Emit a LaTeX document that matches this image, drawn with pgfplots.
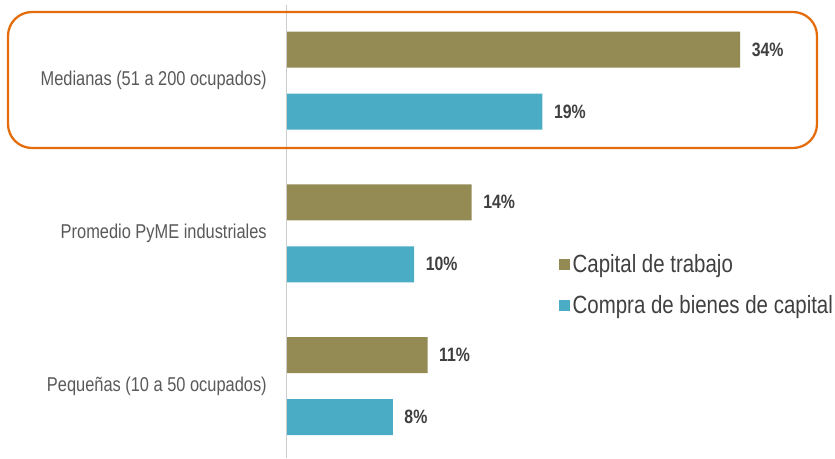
\documentclass[border=0pt]{standalone}
\usepackage{pgfplots}
\pgfplotsset{compat=1.18}
\usepackage{fontspec}
\setmainfont{Liberation Sans}[FakeStretch=0.82]
\definecolor{olivebar}{HTML}{948A54}
\definecolor{tealbar}{HTML}{4BACC6}
\definecolor{boxorange}{HTML}{E46C0A}
\definecolor{labelgray}{HTML}{595959}
\definecolor{valgray}{HTML}{404040}
\begin{document}
\begin{tikzpicture}
\useasboundingbox (0pt,0pt) rectangle (626.25pt,343.5pt);
\begin{axis}[
  at={(214.5pt,0pt)}, anchor=south west,
  scale only axis,
  width=411.75pt, height=343.5pt,
  xbar, bar width=27pt,
  xmin=0, xmax=41.1,
  ymin=-0.471, ymax=2.527,
  axis line style={draw=none},
  xtick=\empty,
  ytick={0,1,2},
  yticklabels={Pequeñas (10 a 50 ocupados), Promedio PyME industriales, Medianas (51 a 200 ocupados)},
  major tick length=0pt,
  yticklabel style={anchor=east, inner sep=0pt, xshift=-14.25pt, font=\fontsize{15}{18}\selectfont, text=labelgray},
  nodes near coords={\pgfmathprintnumber[fixed,precision=0]{\pgfplotspointmeta}\%},
  point meta=x,
  nodes near coords style={anchor=west, inner sep=0pt, xshift=8.5pt, font=\bfseries\fontsize{14.5}{17}\selectfont, text=valgray, /pgf/number format/assume math mode=true},
  legend style={draw=none, fill=none, at={(0.4895,0.378)}, anchor=west, font=\fontsize{18.7}{22}\selectfont, text=valgray, row sep=12pt, legend cell align=left},
  legend image code/.code={\fill[#1] (-2.25pt,-4.1pt) rectangle (6pt,4.1pt);},
]
\addplot[fill=olivebar, draw=none, bar shift=23.25pt] coordinates {(10.6,0) (13.9,1) (34.0,2)};
\addplot[fill=tealbar, draw=none, bar shift=-23.25pt] coordinates {(8.0,0) (9.6,1) (19.2,2)};
\legend{Capital de trabajo, Compra de bienes de capital}
\draw[black!20, line width=0.8pt] (axis cs:0,-0.471) -- (axis cs:0,2.494);
\end{axis}
\draw[boxorange, line width=1.7pt, rounded corners=18pt] (6pt,232.5pt) rectangle (612.75pt,334.5pt);
\end{tikzpicture}
\end{document}
